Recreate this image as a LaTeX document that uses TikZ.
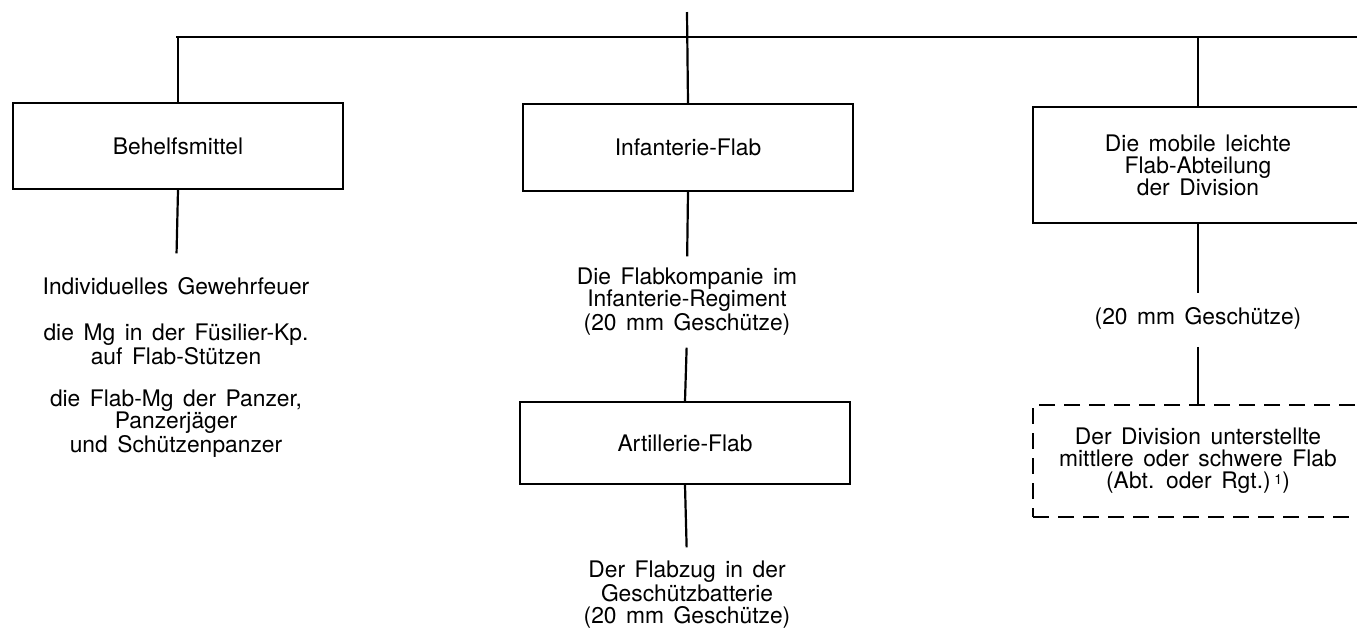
\documentclass[tikz,border=0pt]{standalone}
\usepackage{fontspec}
\setmainfont{TeX Gyre Heros}
\newcommand{\fnmark}{\raisebox{0.35ex}{\fontsize{7}{7}\selectfont 1})}
\newcommand{\diagfont}{\fontsize{11.4}{11}\selectfont\spaceskip=0.42em plus 0.1em minus 0.05em\relax}
\begin{document}
\begin{tikzpicture}[x=0.5pt,y=-0.5pt,
  line width=1.1pt,
  every node/.style={font=\diagfont, align=center},
  box/.style={draw, rectangle, minimum width=165pt, inner sep=0pt},
  dbox/.style={box, dash pattern=on 8pt off 4.5pt},
  txt/.style={inner sep=0pt, outer sep=0pt}]
\useasboundingbox (0,0) rectangle (1357,628);
% coordinates for free ends
\coordinate (top) at (687,12);
\coordinate (hl) at (176,37);
\coordinate (hr) at (1357,37);
% boxes
\node[box, minimum height=43pt] (beh) at (178,146) {Behelfsmittel};
\node[box, minimum height=43.5pt] (inf) at (688,147.5) {Infanterie-Flab};
\node[box, minimum height=58pt] (mob) at (1198,165) {Die mobile leichte\\Flab-Abteilung\\der Division};
\node[box, minimum height=41pt] (art) at (685,443) {Artillerie-Flab};
\node[dbox, minimum height=56pt] (div) at (1198,461) {Der Division unterstellte\\mittlere oder schwere Flab\\(Abt. oder Rgt.)\,\fnmark};
% texts
\node[txt] (t1) at (176,286) {Individuelles Gewehrfeuer};
\node[txt] (t2) at (176,344) {die Mg in der Füsilier-Kp.\\auf Flab-Stützen};
\node[txt] (t3) at (176,424) {die Flab-Mg der Panzer,\\Panzerjäger\\und Schützenpanzer};
\node[txt] (k1) at (687,302) {Die Flabkompanie im\\Infanterie-Regiment\\(20 mm Geschütze)};
\node[txt] (k2) at (687,595) {Der Flabzug in der\\Geschützbatterie\\(20 mm Geschütze)};
\node[txt] (m1) at (1198,318) {(20 mm Geschütze)};
% connectors
\draw (hl) -- (hr);
\draw (top) -- (inf.north);
\draw (beh.north) -- (beh.north |- hl);
\draw (mob.north) -- (mob.north |- hl);
\draw[shorten >=12pt] (beh.south) -- (t1.north);
\draw[shorten >=6pt] (inf.south) -- (k1.north);
\draw[shorten <=6pt] (k1.south) -- (art.north);
\draw[shorten >=7pt] (art.south) -- (k2.north);
\draw[shorten >=7pt] (mob.south) -- (m1.north);
\draw[shorten <=9pt] (m1.south) -- (div.north);
\end{tikzpicture}
\end{document}
